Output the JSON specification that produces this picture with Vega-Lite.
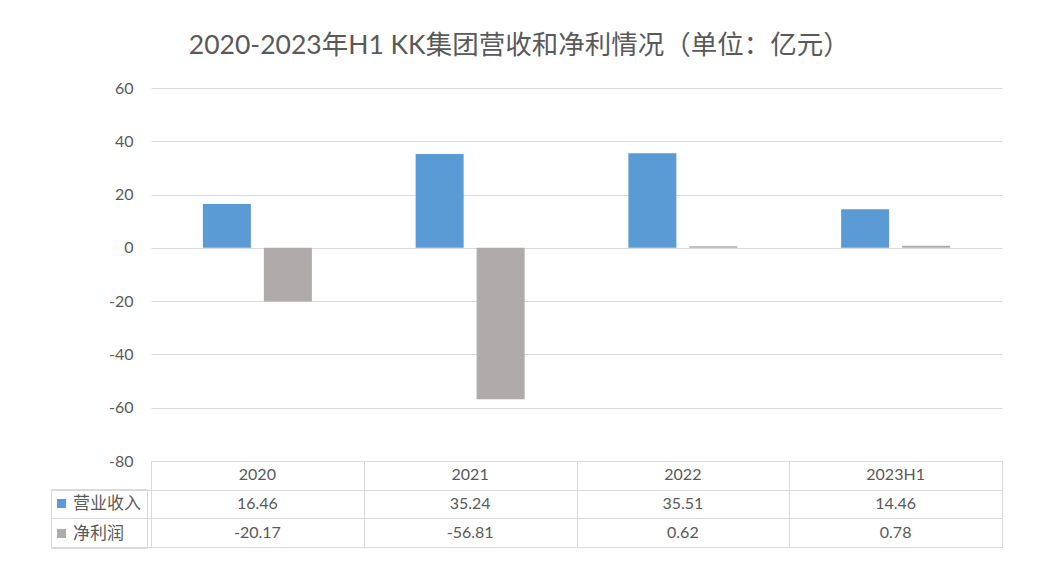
{
  "$schema": "https://vega.github.io/schema/vega-lite/v6.json",
  "padding": {"left": 50, "top": 32, "right": 10, "bottom": 10},
  "background": "white",
  "bounds": "flush",
  "title": {
    "text": "2020-2023年H1 KK集团营收和净利情况（单位：亿元）",
    "font": "Lato, Noto Sans CJK SC",
    "fontSize": 26.5,
    "fontWeight": "normal",
    "color": "#595959",
    "anchor": "middle",
    "dx": -7,
    "offset": 21
  },
  "data": {
    "values": [
      {"year": "2020", "series": "营业收入", "value": 16.46},
      {"year": "2020", "series": "净利润", "value": -20.17},
      {"year": "2021", "series": "营业收入", "value": 35.24},
      {"year": "2021", "series": "净利润", "value": -56.81},
      {"year": "2022", "series": "营业收入", "value": 35.51},
      {"year": "2022", "series": "净利润", "value": 0.62},
      {"year": "2023H1", "series": "营业收入", "value": 14.46},
      {"year": "2023H1", "series": "净利润", "value": 0.78}
    ]
  },
  "spacing": 0,
  "vconcat": [
    {
      "width": 851,
      "height": 373,
      "view": {"stroke": null},
      "mark": {"type": "bar"},
      "encoding": {
        "x": {"field": "year", "type": "nominal", "sort": null, "scale": {"paddingInner": 0, "paddingOuter": 0}, "axis": null},
        "xOffset": {"field": "series", "type": "nominal", "sort": ["营业收入", "净利润"], "scale": {"paddingInner": 0.213, "paddingOuter": 0.85}},
        "y": {
          "field": "value", "type": "quantitative",
          "scale": {"domain": [-80, 60], "nice": false},
          "axis": {"values": [-80, -60, -40, -20, 0, 20, 40, 60], "title": null, "grid": true, "gridColor": "#D9D9D9", "gridWidth": 1, "domain": false, "ticks": false, "labelPadding": 18, "labelColor": "#595959", "labelFontSize": 16, "labelFont": "Lato", "labelExpr": "replace(datum.label, '−', '-')"}
        },
        "color": {
          "field": "series", "type": "nominal",
          "scale": {"domain": ["营业收入", "净利润"], "range": ["#5B9BD5", "#AFABAB"]},
          "legend": {
            "orient": "none", "legendX": -100, "legendY": 401, "title": null,
            "symbolType": "square", "symbolSize": 81, "symbolStrokeWidth": 0, "symbolOffset": -4,
            "labelFontSize": 17, "labelFont": "Noto Sans CJK SC", "labelColor": "#595959",
            "strokeColor": "#D9D9D9", "padding": 6, "rowPadding": 12, "labelOffset": 3
          }
        }
      }
    },
    {
      "width": 851,
      "height": 86,
      "view": {"stroke": "#D9D9D9"},
      "encoding": {
        "x": {"field": "year", "type": "nominal", "sort": null, "scale": {"paddingInner": 0, "paddingOuter": 0},
          "axis": {"labels": false, "ticks": false, "domain": false, "grid": true, "gridColor": "#D9D9D9", "tickBand": "extent", "title": null}}
      },
      "layer": [
        {
          "transform": [{"filter": "datum.series === '营业收入'"}],
          "mark": {"type": "text", "fontSize": 16, "color": "#595959", "font": "Lato"},
          "encoding": {
            "y": {"datum": "header", "type": "nominal",
              "scale": {"domain": ["header", "营业收入", "净利润"], "paddingInner": 0, "paddingOuter": 0},
              "axis": {"labels": false, "domain": false, "ticks": true, "tickSize": 100, "tickColor": "#D9D9D9", "tickOffset": 14.33, "grid": true, "gridColor": "#D9D9D9", "title": null}},
            "text": {"field": "year"}
          }
        },
        {
          "mark": {"type": "text", "fontSize": 16, "color": "#595959", "font": "Lato"},
          "encoding": {
            "y": {"field": "series", "type": "nominal"},
            "text": {"field": "value", "type": "nominal"}
          }
        }
      ]
    }
  ]
}
